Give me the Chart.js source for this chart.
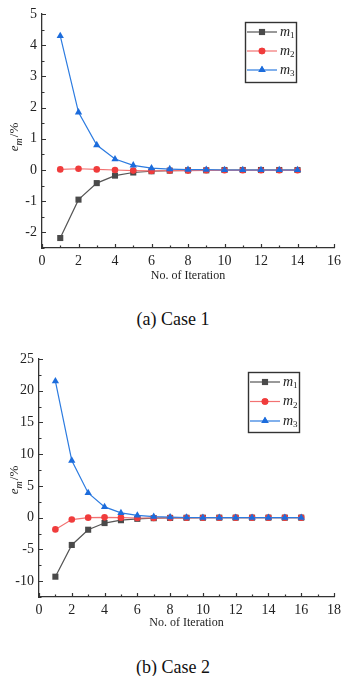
<!DOCTYPE html>
<html>
<head>
<meta charset="utf-8">
<script src="https://cdn.jsdelivr.net/npm/chart.js@4.4.1/dist/chart.umd.min.js"></script>
<style>
  body { margin: 0; background: #fff; width: 341px; height: 676px; position: relative; overflow: hidden; font-family: "Liberation Serif", serif; }
  .box { position: absolute; left: 0; width: 341px; height: 290px; }
  .cap { position: absolute; left: 0; width: 346px; text-align: center; font-size: 18px; line-height: 20px; color: #111; }
</style>
</head>
<body>
<div class="box" style="top:0"><canvas id="c1" width="341" height="290"></canvas></div>
<div class="cap" style="top:309px">(a) Case 1</div>
<div class="box" style="top:340px"><canvas id="c2" width="341" height="290"></canvas></div>
<div class="cap" style="top:657px">(b) Case 2</div>

<script>
// ---- data ----
const iter1 = [1, 2, 3, 4, 5, 6, 7, 8, 9, 10, 11, 12, 13, 14];
const case1M1 = [-2.18, -0.95, -0.42, -0.18, -0.08, -0.04, -0.02, -0.01, -0.01, 0, 0, 0, 0, 0];
const case1M2 = [0.02, 0.04, 0.02, 0.0, -0.02, -0.03, -0.02, -0.02, -0.01, -0.01, -0.01, -0.01, -0.01, -0.01];
const case1M3 = [4.3, 1.85, 0.8, 0.35, 0.15, 0.06, 0.03, 0.01, 0.01, 0, 0, 0, 0, 0];

const iter2 = [1, 2, 3, 4, 5, 6, 7, 8, 9, 10, 11, 12, 13, 14, 15, 16];
const case2M1 = [-9.3, -4.3, -1.9, -0.85, -0.4, -0.18, -0.08, -0.04, -0.02, -0.01, 0, 0, 0, 0, 0, 0];
const case2M2 = [-1.85, -0.3, 0.0, 0.05, 0.0, -0.05, -0.05, -0.03, -0.02, -0.01, -0.01, 0, 0, 0, 0, 0];
const case2M3 = [21.5, 9.0, 3.9, 1.7, 0.75, 0.35, 0.15, 0.07, 0.03, 0.01, 0, 0, 0, 0, 0, 0];

const xTicks1 = [0, 2, 4, 6, 8, 10, 12, 14, 16];
const xMinor1 = [1, 3, 5, 7, 9, 11, 13, 15];
const yTicks1 = [-2, -1, 0, 1, 2, 3, 4, 5];
const yMinor1 = [-2.5, -1.5, -0.5, 0.5, 1.5, 2.5, 3.5, 4.5];

const xTicks2 = [0, 2, 4, 6, 8, 10, 12, 14, 16, 18];
const xMinor2 = [1, 3, 5, 7, 9, 11, 13, 15, 17];
const yTicks2 = [-10, -5, 0, 5, 10, 15, 20, 25];
const yMinor2 = [-12.5, -7.5, -2.5, 2.5, 7.5, 12.5, 17.5, 22.5];

const seriesNames = ['1', '2', '3'];
const xTitle = 'No. of Iteration';

const FONT = '"Liberation Serif", "Times New Roman", serif';
const ink = '#222';

// inward tick marks, axis titles with subscripts and the boxed legend
const decor = {
  id: 'decor',
  afterDraw(chart) {
    const o = chart.options.plugins.decor;
    const ctx = chart.ctx;
    const a = chart.chartArea;
    const xs = chart.scales.x, ys = chart.scales.y;
    ctx.save();
    ctx.strokeStyle = '#333';
    ctx.lineWidth = 1.2;
    ctx.beginPath();
    o.xTicks.forEach(v => { const px = Math.round(xs.getPixelForValue(v)) + 0.5; ctx.moveTo(px, a.bottom); ctx.lineTo(px, a.bottom - 4); });
    o.xMinor.forEach(v => { const px = Math.round(xs.getPixelForValue(v)) + 0.5; ctx.moveTo(px, a.bottom); ctx.lineTo(px, a.bottom - 2.5); });
    o.yTicks.forEach(v => { const py = Math.round(ys.getPixelForValue(v)) + 0.5; ctx.moveTo(a.left, py); ctx.lineTo(a.left + 4, py); });
    o.yMinor.forEach(v => { const py = Math.round(ys.getPixelForValue(v)) + 0.5; ctx.moveTo(a.left, py); ctx.lineTo(a.left + 2.5, py); });
    ctx.stroke();

    // x title
    ctx.fillStyle = ink;
    ctx.font = '12px ' + FONT;
    ctx.textAlign = 'center';
    ctx.textBaseline = 'middle';
    ctx.fillText(xTitle, (a.left + a.right) / 2, a.bottom + o.xTitleGap);

    // y title  e_m/%
    ctx.save();
    ctx.translate(o.yTitleX, o.yTitleY);
    ctx.rotate(-Math.PI / 2);
    ctx.textAlign = 'left';
    ctx.textBaseline = 'alphabetic';
    ctx.font = 'italic 13px ' + FONT;
    const w1 = ctx.measureText('e').width;
    ctx.font = 'italic 10px ' + FONT;
    const w2 = ctx.measureText('m').width + 1;
    ctx.font = '13px ' + FONT;
    const w3 = ctx.measureText('/%').width;
    let tx = -(w1 + w2 + w3) / 2;
    ctx.font = 'italic 13px ' + FONT;
    ctx.fillText('e', tx, 3); tx += w1;
    ctx.font = 'italic 10px ' + FONT;
    ctx.fillText('m', tx, 7); tx += w2;
    ctx.font = '13px ' + FONT;
    ctx.fillText('/%', tx, 3);
    ctx.restore();

    // legend
    const L = o.legend;
    ctx.lineWidth = 1.4;
    ctx.strokeStyle = '#333';
    ctx.strokeRect(L.x + 0.5, L.y + 0.5, L.w, L.h);
    chart.data.datasets.forEach((ds, i) => {
      const y = L.y + L.rowTop + i * L.rowGap;
      ctx.strokeStyle = ds.borderColor;
      ctx.lineWidth = 1.2;
      ctx.beginPath();
      ctx.moveTo(L.x + 2, y); ctx.lineTo(L.x + 32, y);
      ctx.stroke();
      ctx.fillStyle = ds.pointBackgroundColor;
      Chart.helpers.drawPoint(ctx, { pointStyle: ds.pointStyle, radius: ds.pointRadius, borderWidth: 0 }, L.x + 17, y);
      ctx.fill();
      ctx.fillStyle = ink;
      ctx.textAlign = 'left';
      ctx.textBaseline = 'middle';
      ctx.font = 'italic 14px ' + FONT;
      ctx.fillText('m', L.x + 35, y);
      const mw = ctx.measureText('m').width;
      ctx.font = '9px ' + FONT;
      ctx.fillText(seriesNames[i], L.x + 35 + mw, y + 4);
    });
    ctx.restore();
  }
};

function series(label, xs, ys, line, fill, style, r, order) {
  return {
    label: label,
    data: xs.map((x, i) => ({ x: x, y: ys[i] })),
    borderColor: line,
    backgroundColor: fill,
    pointBackgroundColor: fill,
    pointBorderWidth: 0,
    pointStyle: style,
    pointRadius: r,
    borderWidth: 1.2,
    tension: 0,
    order: order
  };
}

function makeChart(id, iters, m1, m2, m3, cfg) {
  return new Chart(document.getElementById(id), {
    type: 'line',
    data: {
      datasets: [
        series('m1', iters, m1, '#555555', '#4a4a4a', 'rect', 4.3, 3),
        series('m2', iters, m2, '#f27272', '#f03c3c', 'circle', 3.3, 2),
        series('m3', iters, m3, '#2c7be0', '#1c6cdc', 'triangle', 4.2, 1)
      ]
    },
    options: {
      responsive: false,
      animation: false,
      events: [],
      layout: { padding: { top: cfg.top, right: 7, left: 0, bottom: 0 } },
      plugins: {
        legend: { display: false },
        tooltip: { enabled: false },
        decor: cfg.decor
      },
      scales: {
        x: {
          type: 'linear',
          min: 0, max: cfg.xMax,
          grid: { display: false, drawTicks: false },
          border: { display: true, color: '#333', width: 1.3 },
          afterBuildTicks: s => { s.ticks = cfg.xTicks.map(v => ({ value: v })); },
          afterFit: s => { s.height = cfg.xH; s.paddingLeft = 0; s.paddingRight = 0; },
          ticks: { color: ink, font: { family: FONT, size: 14 }, padding: 5, maxRotation: 0, autoSkip: false, callback: v => String(v) }
        },
        y: {
          min: cfg.yMin, max: cfg.yMax,
          grid: { display: false, drawTicks: false },
          border: { display: true, color: '#333', width: 1.3 },
          afterBuildTicks: s => { s.ticks = cfg.yTicks.map(v => ({ value: v })); },
          afterFit: s => { s.width = cfg.yW; s.paddingTop = 0; s.paddingBottom = 0; },
          ticks: { color: ink, font: { family: FONT, size: 14 }, padding: 5, autoSkip: false, callback: v => String(v) }
        }
      }
    },
    plugins: [decor]
  });
}

makeChart('c1', iter1, case1M1, case1M2, case1M3, {
  top: 14, xH: 42, yW: 42, xMax: 16, yMin: -2.5, yMax: 5,
  xTicks: xTicks1, yTicks: yTicks1,
  decor: {
    xTicks: xTicks1, xMinor: xMinor1, yTicks: yTicks1, yMinor: yMinor1,
    xTitleGap: 28, yTitleX: 15, yTitleY: 137,
    legend: { x: 245, y: 22, w: 51, h: 60, rowTop: 10, rowGap: 19 }
  }
});

makeChart('c2', iter2, case2M1, case2M2, case2M3, {
  top: 19, xH: 33, yW: 39, xMax: 18, yMin: -12.5, yMax: 25,
  xTicks: xTicks2, yTicks: yTicks2,
  decor: {
    xTicks: xTicks2, xMinor: xMinor2, yTicks: yTicks2, yMinor: yMinor2,
    xTitleGap: 26, yTitleX: 15, yTitleY: 140,
    legend: { x: 248, y: 32, w: 51, h: 60, rowTop: 10, rowGap: 19.5 }
  }
});
</script>
</body>
</html>
